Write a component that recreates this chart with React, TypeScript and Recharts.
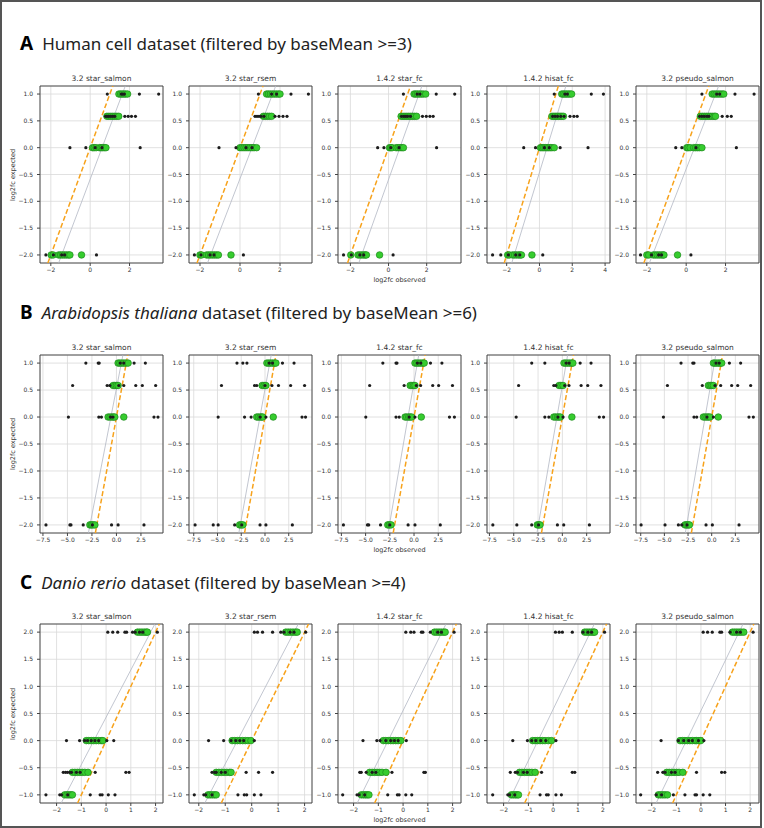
import { ScatterChart, Scatter, XAxis, YAxis, CartesianGrid, ReferenceLine, ReferenceArea } from 'recharts';

// [y level, observed x values at that level]
type Row = [number, number[]];
type Seg = [[number, number], [number, number]];

const TITLES = ['3.2 star_salmon', '3.2 star_rsem', '1.4.2 star_fc', '1.4.2 hisat_fc', '3.2 pseudo_salmon'];

// ---------- A: Human cell ----------
const A_Y_TICKS = [-2, -1.5, -1, -0.5, 0, 0.5, 1];
const A_X_TICKS = [-2, 0, 2];
const A_X_TICKS_HISAT = [-2, 0, 2, 4];

const A1_BLACK: Row[] = [
  [1, [0.87, 1.58, 1.66, 1.74, 2.5, 3.48]],
  [0.585, [0.78, 0.86, 0.95, 1.05, 1.15, 1.25, 1.76, 1.93, 2.1, 2.3]],
  [0, [-1.03, -0.22, 0.25, 0.6, 2.54]],
  [-2, [-2.25, -1.87, -1.45, -1.3, 0.32]],
];
const A1_GREEN: Row[] = [
  [1, [1.46, 1.55, 1.63, 1.72, 1.8, 1.9]],
  [0.585, [0.85, 0.95, 1.05, 1.15, 1.25, 1.35, 1.45]],
  [0, [0.12, 0.2, 0.3, 0.47, 0.55, 0.63, 0.72, 0.8]],
  [-2, [-1.98, -1.88, -1.6, -1.5, -1.4, -1.3, -1.2, -1.1, -1.03, -0.44]],
];
const A1_FIT: Seg = [[-1.45, -2], [1.63, 1]];

const A2_BLACK: Row[] = [
  [1, [0.92, 1.58, 1.83, 2.55, 3.42]],
  [0.585, [0.75, 0.85, 0.95, 1.05, 1.2, 1.75, 1.95, 2.15, 2.35]],
  [0, [-1.05, -0.2, 0.3, 0.6]],
  [-2, [-2.28, -1.95, -1.5, -1.3, 0.17]],
];
const A2_GREEN: Row[] = [
  [1, [1.33, 1.42, 1.52, 1.62, 1.72, 1.82, 1.92, 2.0]],
  [0.585, [1.17, 1.27, 1.37, 1.47, 1.58]],
  [0, [0.0, 0.1, 0.2, 0.3, 0.4, 0.5, 0.6, 0.7, 0.83]],
  [-2, [-2.0, -1.92, -1.67, -1.57, -1.47, -1.37, -1.27, -1.17, -1.08, -0.45]],
];
const A2_FIT: Seg = [[-1.47, -2], [1.63, 1]];

const A3_BLACK: Row[] = [
  [1, [0.78, 1.5, 1.65, 2.5, 3.47]],
  [0.585, [0.68, 0.8, 0.9, 1.0, 1.15, 1.78, 1.98, 2.17, 2.34]],
  [0, [-0.57, -0.24, 0.12, 0.55, 2.52]],
  [-2, [-2.36, -1.95, -1.5, -1.3, 0.24]],
];
const A3_GREEN: Row[] = [
  [1, [1.34, 1.43, 1.52, 1.62, 1.72, 1.82, 1.95]],
  [0.585, [0.66, 0.76, 0.86, 0.96, 1.06, 1.16, 1.26, 1.36, 1.47]],
  [0, [0.05, 0.12, 0.19, 0.4, 0.5, 0.6, 0.7, 0.78]],
  [-2, [-1.98, -1.6, -1.5, -1.4, -1.3, -1.22, -1.16, -0.47]],
];
const A3_FIT: Seg = [[-1.41, -2], [1.6, 1]];

const A4_BLACK: Row[] = [
  [1, [0.9, 1.55, 1.7, 3.16, 3.9]],
  [0.585, [0.8, 0.95, 1.1, 1.3, 1.5, 1.86, 2.1, 2.3]],
  [0, [-0.96, -0.24, 0.3, 0.6, 1.26, 2.96]],
  [-2, [-2.86, -2.36, -1.9, -1.45, -1.2, 0.2]],
];
const A4_GREEN: Row[] = [
  [1, [1.36, 1.46, 1.56, 1.66, 1.76, 1.86, 1.96]],
  [0.585, [0.76, 0.86, 0.96, 1.06, 1.16, 1.26, 1.36, 1.46]],
  [0, [0.06, 0.16, 0.26, 0.36, 0.46, 0.56, 0.66, 0.76, 0.9]],
  [-2, [-1.94, -1.84, -1.64, -1.52, -1.4, -1.28, -1.18, -1.1, -0.46]],
];
const A4_FIT: Seg = [[-1.54, -2], [1.46, 1]];

const A5_BLACK: Row[] = [
  [1, [0.8, 1.55, 1.7, 2.48, 3.45]],
  [0.585, [0.68, 0.8, 0.92, 1.05, 1.15, 1.83, 2.09, 2.29]],
  [0, [-0.53, -0.22, 0.5, 2.55]],
  [-2, [-2.32, -1.76, -1.4, -1.25, 0.24]],
];
const A5_GREEN: Row[] = [
  [1, [1.32, 1.42, 1.52, 1.62, 1.72, 1.82, 1.91]],
  [0.585, [0.72, 0.82, 0.92, 1.02, 1.12, 1.22, 1.32, 1.42, 1.49]],
  [0, [0.03, 0.1, 0.2, 0.38, 0.48, 0.58, 0.68, 0.8]],
  [-2, [-2.0, -1.9, -1.67, -1.57, -1.47, -1.37, -1.27, -1.18, -1.13, -0.44]],
];
const A5_FIT: Seg = [[-1.71, -2], [1.49, 1]];

// ---------- B: Arabidopsis thaliana ----------
const B_X_TICKS = [-7.5, -5, -2.5, 0, 2.5];

const B1_BLACK: Row[] = [
  [1, [-3.12, -1.86, -1.76, 0.4, 0.75, 1.8, 2.95]],
  [0.585, [-4.47, -0.95, -0.68, 0.24, 0.75, 1.97, 2.64, 4.0]],
  [0, [-4.9, -1.8, -1.53, -0.6, -0.35, 3.83, 4.24]],
  [-2, [-7.19, -4.75, -4.64, -3.39, -2.45, -0.5, 0.17, 2.81]],
];
const B1_GREEN: Row[] = [
  [1, [0.17, 0.35, 0.55, 0.75, 0.95, 1.19]],
  [0.585, [-0.34, -0.17, 0.0, 0.17]],
  [0, [-0.85, -0.65, -0.45, -0.3, -0.17, 0.75]],
  [-2, [-2.71, -2.55, -2.4, -2.2]],
];
const B1_FIT: Seg = [[-2.7, -2], [0.5, 1]];

const B2_BLACK: Row[] = [
  [1, [-2.95, -2.33, -1.9, 0.45, 0.8, 1.84, 3.06]],
  [0.585, [-4.58, -1.1, -0.87, 0.0, 0.73, 1.42, 2.7, 4.17]],
  [0, [-4.93, -2.15, -1.46, -0.5, 0.1, 3.9, 4.27]],
  [-2, [-7.36, -5.45, -4.93, -3.19, -2.45, -0.52, 0.1, 2.88]],
];
const B2_GREEN: Row[] = [
  [1, [0.2, 0.4, 0.6, 0.8, 1.0, 1.15]],
  [0.585, [-0.3, -0.1, 0.1]],
  [0, [-0.87, -0.7, -0.5, -0.35, -0.24, 0.87]],
  [-2, [-2.67, -2.5, -2.33]],
];
const B2_FIT: Seg = [[-2.6, -2], [0.5, 1]];

const B3_BLACK: Row[] = [
  [1, [-3.22, -1.86, -1.76, 0.35, 0.7, 1.7, 2.88]],
  [0.585, [-4.58, -1.02, 0.24, 0.68, 1.93, 2.54, 3.97]],
  [0, [-4.98, -1.86, -1.53, -0.5, 0.1, 3.66, 4.17]],
  [-2, [-7.29, -4.81, -4.68, -3.46, -2.5, -0.61, 0.1, 2.71]],
];
const B3_GREEN: Row[] = [
  [1, [0.1, 0.3, 0.5, 0.7, 0.9, 1.05]],
  [0.585, [-0.4, -0.22, -0.05, 0.1]],
  [0, [-0.92, -0.75, -0.55, -0.4, -0.24, 0.75]],
  [-2, [-2.71, -2.55, -2.37]],
];
const B3_FIT: Seg = [[-2.54, -2], [0.34, 1]];

const B4_BLACK: Row[] = [
  [1, [-3.15, -1.8, 0.4, 0.7, 1.83, 2.95]],
  [0.585, [-4.5, -0.88, -0.68, 0.24, 0.68, 1.93, 2.61, 3.97]],
  [0, [-4.75, -1.8, -1.39, -0.45, 0.07, 3.8, 4.24]],
  [-2, [-7.15, -4.68, -3.15, -2.45, -0.51, 0.14, 2.78]],
];
const B4_GREEN: Row[] = [
  [1, [0.17, 0.35, 0.55, 0.75, 0.95, 1.08]],
  [0.585, [-0.34, -0.15, 0.07]],
  [0, [-0.88, -0.7, -0.5, -0.35, -0.2, 0.98]],
  [-2, [-2.58, -2.44, -2.3]],
];
const B4_FIT: Seg = [[-2.47, -2], [0.4, 1]];

const B5_BLACK: Row[] = [
  [1, [-3.24, -2.0, -1.87, 0.45, 0.8, 1.87, 3.06]],
  [0.585, [-4.68, -0.99, 0.35, 0.95, 2.11, 2.75, 4.12]],
  [0, [-5.1, -1.87, -1.58, -0.5, 0.18, 3.94, 4.4]],
  [-2, [-7.46, -4.93, -3.52, -3.17, -2.6, -0.6, 0.07, 2.89]],
];
const B5_GREEN: Row[] = [
  [1, [0.18, 0.35, 0.55, 0.75, 0.92, 1.06]],
  [0.585, [-0.35, -0.17, 0.0, 0.18]],
  [0, [-0.88, -0.7, -0.5, -0.35, -0.18, 0.7]],
  [-2, [-2.82, -2.65, -2.5, -2.36]],
];
const B5_FIT: Seg = [[-2.64, -2], [0.28, 1]];

// ---------- C: Danio rerio ----------
const C_Y_TICKS = [-1, -0.5, 0, 0.5, 1, 1.5, 2];
const C_X_TICKS = [-2, -1, 0, 1, 2];

const C1_BLACK: Row[] = [
  [2, [0.07, 0.27, 0.47, 0.76, 0.83, 1.07, 1.17, 1.35, 1.48, 2.07]],
  [0, [-1.6, -1.07, -0.87, -0.75, -0.6, -0.45, -0.3, 0.03, 0.31]],
  [-0.585, [-1.73, -1.64, -1.56, -1.47, -1.4, -1.2, -1.05, -0.44, 0.8, 0.93]],
  [-1, [-2.43, -1.87, -1.8, -1.55, -0.64, -0.24, -0.16, 0.09, 0.36]],
];
const C1_GREEN: Row[] = [
  [2, [1.27, 1.36, 1.45, 1.54, 1.62, 1.67]],
  [0, [-0.8, -0.7, -0.6, -0.5, -0.4, -0.3, -0.2, -0.13]],
  [-0.585, [-1.36, -1.26, -1.16, -1.06, -0.96, -0.86, -0.73]],
  [-1, [-1.67, -1.58, -1.5, -1.42, -1.36]],
];
const C1_FIT: Seg = [[-1.64, -1], [1.8, 2]];

const C2_BLACK: Row[] = [
  [2, [0.1, 0.22, 0.41, 0.79, 1.1, 1.22, 1.45, 1.6, 2.04]],
  [0, [-1.63, -1.06, -0.78, -0.6, -0.45, -0.3, 0.1]],
  [-0.585, [-1.5, -1.4, -1.34, -1.15, -1.0, -0.21, 0.26, 0.79]],
  [-1, [-2.17, -1.81, -1.74, -1.5, -0.52, -0.28, -0.19, 0.1, 0.35]],
];
const C2_GREEN: Row[] = [
  [2, [1.29, 1.38, 1.47, 1.56, 1.65, 1.72]],
  [0, [-0.74, -0.64, -0.54, -0.44, -0.34, -0.24, -0.14, -0.03]],
  [-0.585, [-1.34, -1.24, -1.14, -1.04, -0.94, -0.84, -0.78]],
  [-1, [-1.65, -1.57, -1.49, -1.41, -1.34]],
];
const C2_FIT: Seg = [[-1.61, -1], [1.6, 2]];

const C3_BLACK: Row[] = [
  [2, [0.11, 0.31, 0.44, 0.74, 0.8, 1.1, 1.4, 1.55, 2.06]],
  [0, [-1.62, -1.06, -0.93, -0.7, -0.5, -0.35, -0.2, 0.13]],
  [-0.585, [-1.75, -1.69, -1.49, -1.25, -1.1, -0.45, 0.84, 0.9]],
  [-1, [-2.44, -1.86, -1.78, -1.55, -0.62, -0.23, -0.16, 0.11, 0.35]],
];
const C3_GREEN: Row[] = [
  [2, [1.27, 1.36, 1.45, 1.54, 1.63, 1.7]],
  [0, [-0.8, -0.7, -0.6, -0.5, -0.4, -0.3, -0.2, -0.09]],
  [-0.585, [-1.35, -1.25, -1.15, -1.05, -0.95, -0.85, -0.69]],
  [-1, [-1.69, -1.6, -1.52, -1.45, -1.38]],
];
const C3_FIT: Seg = [[-1.69, -1], [1.57, 2]];

const C4_BLACK: Row[] = [
  [2, [0.09, 0.24, 0.37, 0.77, 1.2, 1.4, 1.55, 2.07]],
  [0, [-1.63, -1.04, -0.87, -0.7, -0.5, -0.3, 0.11]],
  [-0.585, [-1.73, -1.53, -1.44, -1.2, -1.05, -0.47, 0.77, 0.87]],
  [-1, [-2.44, -1.83, -1.76, -1.55, -0.53, -0.27, -0.2, 0.11, 0.33]],
];
const C4_GREEN: Row[] = [
  [2, [1.27, 1.36, 1.45, 1.54, 1.62, 1.67]],
  [0, [-0.83, -0.73, -0.63, -0.53, -0.43, -0.33, -0.2, -0.07]],
  [-0.585, [-1.36, -1.26, -1.16, -1.06, -0.96, -0.86, -0.73]],
  [-1, [-1.69, -1.61, -1.53, -1.46, -1.4]],
];
const C4_FIT: Seg = [[-1.67, -1], [1.5, 2]];

const C5_BLACK: Row[] = [
  [2, [0.09, 0.27, 0.46, 0.77, 0.84, 1.18, 1.45, 1.6, 2.12]],
  [0, [-1.62, -0.92, -0.7, -0.5, -0.35, -0.1, 0.12]],
  [-0.585, [-1.76, -1.55, -1.46, -1.2, -1.05, -0.18, 0.84, 0.97]],
  [-1, [-2.45, -1.82, -1.6, -1.12, -0.65, -0.24, -0.18, 0.09, 0.36]],
];
const C5_GREEN: Row[] = [
  [2, [1.28, 1.37, 1.46, 1.55, 1.64, 1.74]],
  [0, [-0.85, -0.75, -0.65, -0.55, -0.45, -0.35, -0.24, -0.18, -0.08, -0.01]],
  [-0.585, [-1.39, -1.29, -1.19, -1.09, -0.99, -0.89, -0.74]],
  [-1, [-1.73, -1.64, -1.55, -1.46, -1.36]],
];
const C5_FIT: Seg = [[-1.66, -1], [1.55, 2]];

type PanelData = {
  black: Row[];
  green: Row[];
  fit: Seg;
  xDomain: [number, number];
  xTicks: number[];
};

type RowData = {
  top: number;
  height: number;
  yDomain: [number, number];
  yTicks: number[];
  xFmt: (v: number) => string;
  panels: PanelData[];
};

const minus = (s: string, v: number) => (v < 0 ? '\u2212' + s.replace('-', '') : s);
const fmtInt = (v: number) => minus(String(v), v);
const fmt1 = (v: number) => minus(v.toFixed(1), v);

const ROWS: RowData[] = [
  {
    top: 86,
    height: 177,
    yDomain: [-2.15, 1.15],
    yTicks: A_Y_TICKS,
    xFmt: fmtInt,
    panels: [
      { black: A1_BLACK, green: A1_GREEN, fit: A1_FIT, xDomain: [-2.55, 3.7], xTicks: A_X_TICKS },
      { black: A2_BLACK, green: A2_GREEN, fit: A2_FIT, xDomain: [-2.55, 3.6], xTicks: A_X_TICKS },
      { black: A3_BLACK, green: A3_GREEN, fit: A3_FIT, xDomain: [-2.65, 3.8], xTicks: A_X_TICKS },
      { black: A4_BLACK, green: A4_GREEN, fit: A4_FIT, xDomain: [-3.2, 4.3], xTicks: A_X_TICKS_HISAT },
      { black: A5_BLACK, green: A5_GREEN, fit: A5_FIT, xDomain: [-2.55, 3.7], xTicks: A_X_TICKS },
    ],
  },
  {
    top: 355,
    height: 178,
    yDomain: [-2.15, 1.15],
    yTicks: A_Y_TICKS,
    xFmt: fmt1,
    panels: [
      { black: B1_BLACK, green: B1_GREEN, fit: B1_FIT, xDomain: [-7.8, 4.75], xTicks: B_X_TICKS },
      { black: B2_BLACK, green: B2_GREEN, fit: B2_FIT, xDomain: [-8.0, 4.95], xTicks: B_X_TICKS },
      { black: B3_BLACK, green: B3_GREEN, fit: B3_FIT, xDomain: [-7.85, 4.85], xTicks: B_X_TICKS },
      { black: B4_BLACK, green: B4_GREEN, fit: B4_FIT, xDomain: [-7.75, 4.9], xTicks: B_X_TICKS },
      { black: B5_BLACK, green: B5_GREEN, fit: B5_FIT, xDomain: [-8.0, 5.0], xTicks: B_X_TICKS },
    ],
  },
  {
    top: 624,
    height: 179,
    yDomain: [-1.15, 2.15],
    yTicks: C_Y_TICKS,
    xFmt: fmtInt,
    panels: [
      { black: C1_BLACK, green: C1_GREEN, fit: C1_FIT, xDomain: [-2.67, 2.3], xTicks: C_X_TICKS },
      { black: C2_BLACK, green: C2_GREEN, fit: C2_FIT, xDomain: [-2.37, 2.28], xTicks: C_X_TICKS },
      { black: C3_BLACK, green: C3_GREEN, fit: C3_FIT, xDomain: [-2.63, 2.34], xTicks: C_X_TICKS },
      { black: C4_BLACK, green: C4_GREEN, fit: C4_FIT, xDomain: [-2.67, 2.29], xTicks: C_X_TICKS },
      { black: C5_BLACK, green: C5_GREEN, fit: C5_FIT, xDomain: [-2.64, 2.36], xTicks: C_X_TICKS },
    ],
  },
];

const HEADINGS = [
  { letter: 'A', parts: [{ t: 'Human cell dataset (filtered by baseMean >=3)', i: false }] },
  { letter: 'B', parts: [{ t: 'Arabidopsis thaliana', i: true }, { t: ' dataset (filtered by baseMean >=6)', i: false }] },
  { letter: 'C', parts: [{ t: 'Danio rerio', i: true }, { t: ' dataset (filtered by baseMean >=4)', i: false }] },
];

const PANEL_LEFT = [40, 189, 338, 487, 636];
const PLOT_W = 123;
const Y_AXIS_W = 31;
const MPL_FONT = 'DejaVu Sans, sans-serif';

const toPoints = (rows: Row[]) => rows.flatMap(([y, xs]) => xs.map((x) => ({ x, y })));

const greenDot = (p: any) => (
  <circle cx={p.cx} cy={p.cy} r={3.3} fill="#36cc2e" stroke="#1d8a1d" strokeWidth={0.7} />
);
const blackDot = (p: any) => <circle cx={p.cx} cy={p.cy} r={1.6} fill="#1c1c1c" />;

function Panel({ left, row, p }: { left: number; row: RowData; p: PanelData }) {
  const [y0, y1] = row.yDomain;
  const [[fx1, fy1], [fx2, fy2]] = p.fit;
  const fitX = (y: number) => fx1 + ((y - fy1) * (fx2 - fx1)) / (fy2 - fy1);
  const tick = { fontSize: 6, fill: '#333', fontFamily: MPL_FONT };
  return (
    <div style={{ position: 'absolute', left: left - Y_AXIS_W, top: row.top - 4 }}>
      <ScatterChart
        width={PLOT_W + Y_AXIS_W + 6}
        height={row.height + 20}
        margin={{ top: 4, right: 6, bottom: 0, left: 0 }}
      >
        <CartesianGrid stroke="#d9d9d9" strokeWidth={0.8} />
        <XAxis
          type="number"
          dataKey="x"
          domain={p.xDomain}
          ticks={p.xTicks}
          interval={0}
          allowDataOverflow
          axisLine={false}
          tickSize={3}
          tickMargin={2}
          tickLine={{ stroke: '#444' }}
          tick={tick}
          tickFormatter={row.xFmt}
          height={16}
        />
        <YAxis
          type="number"
          dataKey="y"
          domain={row.yDomain}
          ticks={row.yTicks}
          interval={0}
          allowDataOverflow
          axisLine={false}
          tickSize={3}
          tickMargin={4}
          tickLine={{ stroke: '#444' }}
          tick={tick}
          tickFormatter={fmt1}
          width={Y_AXIS_W}
        />
        <ReferenceLine
          segment={[{ x: fitX(y0), y: y0 }, { x: fitX(y1), y: y1 }]}
          stroke="#b3b7c4"
          strokeWidth={0.8}
          ifOverflow="hidden"
        />
        <ReferenceLine
          segment={[{ x: y0, y: y0 }, { x: y1, y: y1 }]}
          stroke="#f7a21b"
          strokeWidth={1.5}
          strokeDasharray="5 2.5"
          ifOverflow="hidden"
        />
        <Scatter data={toPoints(p.green)} shape={greenDot} isAnimationActive={false} />
        <Scatter data={toPoints(p.black)} shape={blackDot} isAnimationActive={false} />
        <ReferenceArea
          x1={p.xDomain[0]}
          x2={p.xDomain[1]}
          y1={y0}
          y2={y1}
          fill="none"
          fillOpacity={0}
          stroke="#3a3a3a"
          strokeWidth={0.9}
          ifOverflow="visible"
        />
      </ScatterChart>
    </div>
  );
}

const HEADING_BASELINE = [50, 319, 589];

export default function App() {
  const small = { position: 'absolute' as const, fontFamily: MPL_FONT, color: '#333', lineHeight: '10px', whiteSpace: 'nowrap' as const };
  return (
    <div style={{ position: 'absolute', left: 0, top: 0, width: 764, height: 828, background: '#fff' }}>
      <div
        style={{
          position: 'absolute',
          left: 0,
          top: 0,
          width: 762,
          height: 828,
          border: '2px solid #555',
          boxSizing: 'border-box',
        }}
      />
      {HEADINGS.map((h, i) => (
        <div
          key={h.letter}
          style={{
            position: 'absolute',
            left: 20,
            top: HEADING_BASELINE[i] - 18,
            fontFamily: 'Noto Sans, sans-serif',
            fontSize: 17,
            lineHeight: '22px',
            color: '#222',
            whiteSpace: 'nowrap',
          }}
        >
          <span style={{ fontWeight: 700, fontSize: 19, color: '#000', marginRight: 9 }}>{h.letter}</span>
          {h.parts.map((pt, j) => (
            <span key={j} style={{ fontStyle: pt.i ? 'italic' : 'normal' }}>
              {pt.t}
            </span>
          ))}
        </div>
      ))}
      {ROWS.map((row, ri) => (
        <div key={ri}>
          {row.panels.map((p, pi) => (
            <div key={pi}>
              <div style={{ ...small, left: PANEL_LEFT[pi], top: row.top - 12, width: PLOT_W, textAlign: 'center', fontSize: 7.5 }}>
                {TITLES[pi]}
              </div>
              <Panel left={PANEL_LEFT[pi]} row={row} p={p} />
            </div>
          ))}
          <div
            style={{
              ...small,
              left: 13 - 50,
              top: row.top + row.height / 2 - 5,
              width: 100,
              textAlign: 'center',
              fontSize: 6.5,
              transform: 'rotate(-90deg)',
            }}
          >
            log2fc expected
          </div>
          <div
            style={{
              ...small,
              left: PANEL_LEFT[2],
              top: row.top + row.height + 12,
              width: PLOT_W,
              textAlign: 'center',
              fontSize: 6.5,
            }}
          >
            log2fc observed
          </div>
        </div>
      ))}
    </div>
  );
}
